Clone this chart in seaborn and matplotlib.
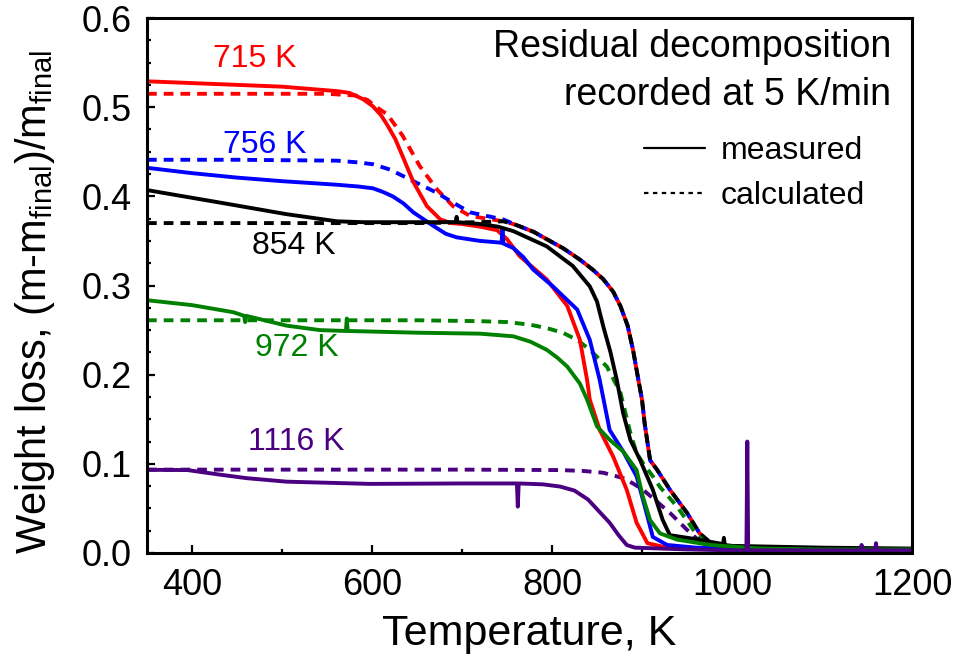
import numpy as np
import pandas as pd
import matplotlib
matplotlib.use("Agg")
import matplotlib.pyplot as plt
from matplotlib.lines import Line2D
from matplotlib.ticker import MultipleLocator, FormatStrFormatter
import seaborn as sns

# ---------------- data ----------------
# 715 K measured (red solid)
t715_meas = [350, 400, 450, 500, 561, 575, 590, 601, 610, 617, 626, 634, 646, 661, 676, 688, 700,
             720, 739, 750, 764, 794, 817, 831, 839, 842, 853, 868, 883, 894, 906, 928, 960,
             1000, 1100, 1200]
w715_meas = [0.529, 0.527, 0.525, 0.523, 0.518, 0.516, 0.509, 0.501, 0.491, 0.480, 0.464, 0.445,
             0.416, 0.389, 0.374, 0.370, 0.369, 0.366, 0.362, 0.352, 0.333, 0.307, 0.277, 0.239,
             0.194, 0.172, 0.138, 0.108, 0.071, 0.034, 0.011, 0.006, 0.005, 0.004, 0.003, 0.002]
# 756 K measured (blue solid)
t756_meas = [350, 400, 450, 500, 561, 585, 601, 612, 623, 635, 646, 668, 682, 694, 720, 744, 745,
             746, 757, 768, 779, 801, 828, 842, 853, 864, 879, 894, 905, 912, 928, 960, 1000,
             1100, 1200]
w756_meas = [0.432, 0.426, 0.421, 0.417, 0.413, 0.411, 0.409, 0.405, 0.400, 0.392, 0.382, 0.367,
             0.358, 0.354, 0.350, 0.348, 0.364, 0.347, 0.342, 0.332, 0.318, 0.299, 0.273, 0.239,
             0.194, 0.138, 0.114, 0.086, 0.045, 0.018, 0.009, 0.006, 0.005, 0.004, 0.004]
# 854 K measured (black solid)
t854_meas = [350, 431, 505, 540, 561, 590, 620, 690, 693, 694, 695, 720, 740, 757, 794, 823, 842,
             850, 857, 865, 872, 879, 887, 898, 912, 923, 931, 957, 990, 991, 992, 1000, 1100,
             1200]
w854_meas = [0.407, 0.393, 0.380, 0.375, 0.372, 0.371, 0.371, 0.371, 0.371, 0.377, 0.371, 0.369,
             0.366, 0.361, 0.344, 0.322, 0.299, 0.282, 0.254, 0.225, 0.194, 0.157, 0.127, 0.104,
             0.071, 0.037, 0.020, 0.016, 0.010, 0.017, 0.009, 0.008, 0.006, 0.005]
# 972 K measured (green solid)
t972_meas = [350, 400, 446, 458, 459, 460, 505, 542, 571, 572, 573, 653, 720, 757, 776, 794, 806,
             817, 831, 839, 850, 864, 879, 894, 901, 909, 920, 939, 976, 1031, 1100, 1200]
w972_meas = [0.2835, 0.278, 0.270, 0.266, 0.259, 0.266, 0.255, 0.250, 0.249, 0.263, 0.249, 0.247,
             0.246, 0.243, 0.237, 0.228, 0.219, 0.209, 0.190, 0.172, 0.142, 0.127, 0.114, 0.093,
             0.063, 0.037, 0.022, 0.015, 0.009, 0.005, 0.004, 0.004]
# 1116 K measured (indigo solid)
t1116_meas = [350, 395, 430, 461, 505, 598, 700, 761, 762, 763, 790, 809, 825, 840, 852, 864, 874,
              883, 892, 950, 1000, 1016, 1017, 1018, 1050, 1100, 1143, 1144, 1145, 1159, 1160,
              1161, 1200]
w1116_meas = [0.0933, 0.0930, 0.0880, 0.0839, 0.080, 0.0775, 0.078, 0.078, 0.052, 0.078, 0.077,
              0.0745, 0.070, 0.060, 0.047, 0.034, 0.020, 0.009, 0.006, 0.004, 0.003, 0.003, 0.125,
              0.003, 0.003, 0.003, 0.003, 0.009, 0.003, 0.003, 0.011, 0.003, 0.003]

# calculated curves (dashed); red, blue and black share the same high-T tail
tail_T = [760, 780, 794, 812, 831, 845, 857, 868, 876, 884, 890, 896, 900, 903, 909, 917, 931,
          950, 964, 979, 1000, 1100, 1200]
tail_w = [0.368, 0.360, 0.352, 0.342, 0.329, 0.318, 0.307, 0.293, 0.277, 0.255, 0.228, 0.194,
          0.172, 0.145, 0.104, 0.093, 0.071, 0.045, 0.022, 0.009, 0.005, 0.004, 0.004]
t715_calc = [350, 450, 550, 583, 595, 605, 617, 634, 653, 672, 690, 709, 746]
w715_calc = [0.515, 0.515, 0.515, 0.513, 0.508, 0.500, 0.492, 0.468, 0.434, 0.408, 0.389, 0.378,
             0.372]
t756_calc = [350, 450, 561, 585, 601, 620, 634, 652, 672, 690, 709, 746]
w756_calc = [0.441, 0.441, 0.440, 0.438, 0.436, 0.430, 0.423, 0.414, 0.404, 0.393, 0.382, 0.374]
t854_calc = [350, 500, 650, 720, 746]
w854_calc = [0.370, 0.370, 0.370, 0.371, 0.372]
t972_calc = [350, 500, 650, 720, 750, 776, 795, 812, 828, 842, 861, 876, 887, 894, 901, 912, 920,
             939, 957, 972, 1000, 1100, 1200]
w972_calc = [0.261, 0.261, 0.261, 0.260, 0.259, 0.256, 0.252, 0.247, 0.239, 0.228, 0.209, 0.180,
             0.135, 0.112, 0.101, 0.086, 0.074, 0.052, 0.026, 0.009, 0.005, 0.004, 0.004]
t1116_calc = [350, 500, 700, 809, 835, 857, 879, 890, 901, 915, 931, 950, 962, 972, 985, 1000,
              1200]
w1116_calc = [0.0935, 0.0935, 0.0935, 0.093, 0.092, 0.090, 0.084, 0.078, 0.071, 0.059, 0.045,
              0.026, 0.015, 0.007, 0.004, 0.003, 0.003]

run_labels = ["715 K", "756 K", "854 K", "972 K", "1116 K"]
run_colors = ["#ff0000", "#0000ff", "#000000", "#008000", "#4b0082"]
label_T = [470, 481, 513, 516, 516]
label_w = [0.554, 0.458, 0.344, 0.230, 0.124]

x_ticks = [400, 600, 800, 1000, 1200]
y_ticks = [0.0, 0.1, 0.2, 0.3, 0.4, 0.5, 0.6]

# ---------------- style ----------------
sns.set_style("ticks")
plt.rcParams["font.family"] = ["Liberation Sans", "DejaVu Sans"]
plt.rcParams["mathtext.default"] = "regular"
plt.rcParams["mathtext.fontset"] = "custom"
plt.rcParams["mathtext.rm"] = "Liberation Sans"
for key in ["text.color", "axes.labelcolor", "xtick.color", "ytick.color", "axes.edgecolor"]:
    plt.rcParams[key] = "black"

fig = plt.figure(figsize=(9.57, 6.57), dpi=100)
ax = fig.add_axes([147 / 957, 1 - 553 / 657, (912 - 147) / 957, (553 - 18) / 657])

LW = 2.8
DASH = (0, (2.5, 1.8))

calc_sets = [
    (list(t715_calc) + tail_T, list(w715_calc) + tail_w),
    (list(t756_calc) + tail_T, list(w756_calc) + tail_w),
    (list(t854_calc) + tail_T, list(w854_calc) + tail_w),
    (t972_calc, w972_calc),
    (t1116_calc, w1116_calc),
]
meas_sets = [
    (t715_meas, w715_meas),
    (t756_meas, w756_meas),
    (t854_meas, w854_meas),
    (t972_meas, w972_meas),
    (t1116_meas, w1116_meas),
]

for (tt, ww), c in zip(calc_sets, run_colors):
    sns.lineplot(x=tt, y=ww, ax=ax, color=c, linewidth=LW, linestyle=DASH,
                 estimator=None, sort=False, legend=False)
for (tt, ww), c in zip(meas_sets, run_colors):
    sns.lineplot(x=tt, y=ww, ax=ax, color=c, linewidth=LW, linestyle="-",
                 estimator=None, sort=False, legend=False)

for lab, c, tx, wy in zip(run_labels, run_colors, label_T, label_w):
    ax.text(tx, wy, lab, color=c, fontsize=23, ha="center", va="center")

ax.set_xlim(350, 1200)
ax.set_ylim(0, 0.6)
ax.set_xticks(x_ticks)
ax.set_yticks(y_ticks)
ax.xaxis.set_minor_locator(MultipleLocator(100))
ax.yaxis.set_minor_locator(MultipleLocator(0.025))
ax.yaxis.set_major_formatter(FormatStrFormatter("%.1f"))
ax.tick_params(which="both", direction="in", top=False, right=False, width=1.6, color="black")
ax.tick_params(which="major", length=5.5, labelsize=26, pad=11, labelcolor="black")
ax.tick_params(which="minor", length=3.0)
for s in ax.spines.values():
    s.set_linewidth(2.2)
    s.set_color("black")
    s.set_visible(True)

ax.set_xlabel("Temperature, K", fontsize=31, labelpad=8, color="black")
ax.set_ylabel(r"Weight loss, (m-m$_{final}$)/m$_{final}$", fontsize=30, color="black")
ax.yaxis.set_label_coords(-0.118, 0.47)

ax.text(0.9725, 0.9458, "Residual decomposition", transform=ax.transAxes,
        fontsize=27, ha="right", va="center", color="black")
ax.text(0.9725, 0.856, "recorded at 5 K/min", transform=ax.transAxes,
        fontsize=27, ha="right", va="center", color="black")

handles = [Line2D([], [], color="black", lw=1.6, linestyle="-"),
           Line2D([], [], color="black", lw=1.6, linestyle=(0, (2, 2)))]
leg = ax.legend(handles, ["measured", "calculated"], loc="upper right",
                bbox_to_anchor=(0.9386, 0.78), borderaxespad=0, borderpad=0,
                frameon=False, fontsize=23, handlelength=1.9, handletextpad=0.5,
                labelspacing=0.47)
for t in leg.get_texts():
    t.set_color("black")

fig.savefig("out.png", dpi=100)
